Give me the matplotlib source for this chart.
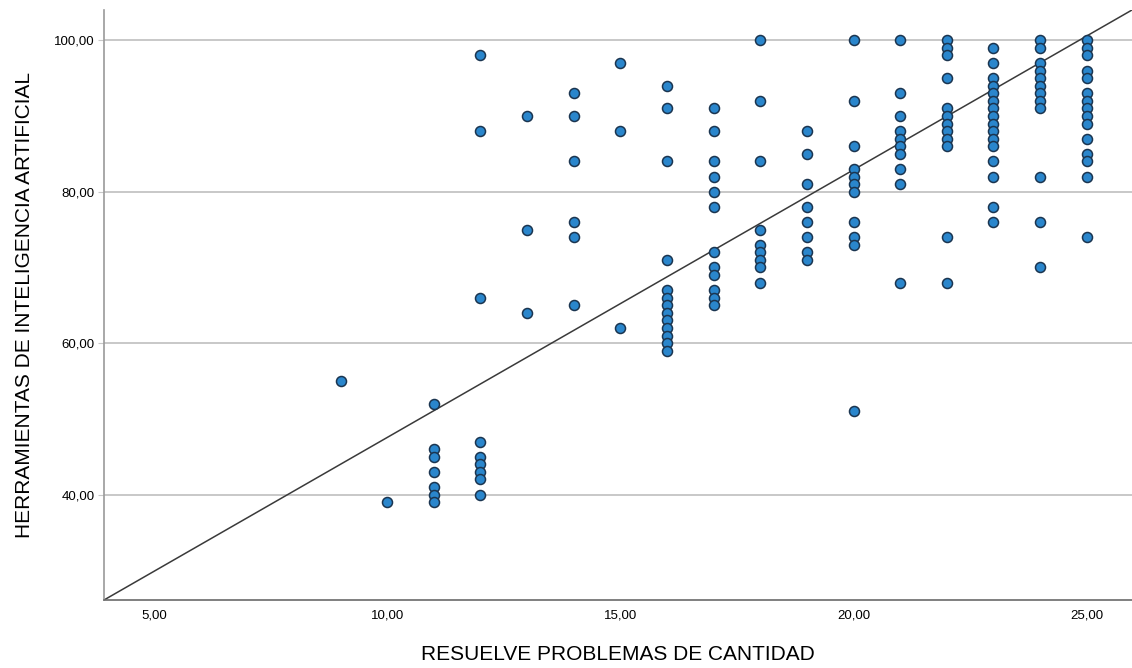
import numpy as np
import matplotlib
matplotlib.use("Agg")
import matplotlib.pyplot as plt
from matplotlib.ticker import FuncFormatter

# column values: x score -> list of y scores
x_9 = [55]
x_10 = [39]
x_11 = [52, 46, 45, 43, 41, 40, 39]
x_12 = [98, 88, 66, 47, 45, 44, 43, 42, 40]
x_13 = [90, 75, 64]
x_14 = [93, 90, 84, 76, 74, 65]
x_15 = [97, 88, 62]
x_16 = [94, 91, 84, 71, 67, 66, 65, 64, 63, 62, 61, 60, 59]
x_17 = [91, 88, 84, 82, 80, 78, 72, 70, 69, 67, 66, 65]
x_18 = [100, 92, 84, 75, 73, 72, 71, 70, 68]
x_19 = [88, 85, 81, 78, 76, 74, 72, 71]
x_20 = [100, 92, 86, 83, 82, 81, 80, 76, 74, 73, 51]
x_21 = [100, 93, 90, 88, 87, 86, 85, 83, 81, 68]
x_22 = [100, 99, 98, 95, 91, 90, 89, 88, 87, 86, 74, 68]
x_23 = [99, 97, 95, 94, 93, 92, 91, 90, 89, 88, 87, 86, 84, 82, 78, 76]
x_24 = [100, 99, 97, 96, 95, 94, 93, 92, 91, 82, 76, 70]
x_25 = [100, 99, 98, 96, 95, 93, 92, 91, 90, 89, 87, 85, 84, 82, 74]

columns = {9: x_9, 10: x_10, 11: x_11, 12: x_12, 13: x_13, 14: x_14,
           15: x_15, 16: x_16, 17: x_17, 18: x_18, 19: x_19, 20: x_20,
           21: x_21, 22: x_22, 23: x_23, 24: x_24, 25: x_25}

# fit line as drawn in the chart (many points overlap, so read it directly)
fit_intercept = 12.2
fit_slope = 3.535

x_ticks = [5, 10, 15, 20, 25]
y_ticks = [40, 60, 80, 100]

xs = np.array([k for k, v in columns.items() for _ in v], dtype=float)
ys = np.array([y for v in columns.values() for y in v], dtype=float)

plt.rcParams['font.family'] = ['Liberation Sans', 'DejaVu Sans']

fig = plt.figure(figsize=(11.32, 6.68), dpi=100)
ax = fig.add_axes([0.092, 0.102, 0.908, 0.883])

xlim = (3.93, 25.97)
ylim = (26.1, 104.0)
ax.set_xlim(*xlim)
ax.set_ylim(*ylim)

for yt in y_ticks:
    ax.axhline(yt, color='#c8c8c8', lw=1.4, zorder=0)

lx = np.array(xlim)
ax.plot(lx, fit_intercept + fit_slope * lx, color='#3a3a3a', lw=1.1, zorder=2)

ax.scatter(xs, ys, s=52, facecolor='#2a86cc', edgecolor='#1b3550',
           linewidth=1.1, zorder=3)

fmt = FuncFormatter(lambda v, p: f"{v:.2f}".replace('.', ','))
ax.set_xticks(x_ticks)
ax.set_yticks(y_ticks)
ax.xaxis.set_major_formatter(fmt)
ax.yaxis.set_major_formatter(fmt)
ax.tick_params(axis='y', length=4, color='#c8c8c8', labelsize=9.5, pad=3)
ax.tick_params(axis='x', length=0, labelsize=9.5, pad=7)

for s in ['top', 'right']:
    ax.spines[s].set_visible(False)
ax.spines['left'].set_color('#9a9a9a')
ax.spines['bottom'].set_color('#6a6a6a')
ax.spines['left'].set_linewidth(1.2)
ax.spines['bottom'].set_linewidth(1.2)

ax.set_xlabel('RESUELVE PROBLEMAS DE CANTIDAD', fontsize=15, labelpad=17)
ax.set_ylabel('HERRAMIENTAS DE INTELIGENCIA ARTIFICIAL', fontsize=15,
              labelpad=14)

fig.savefig('out.png', dpi=100)
